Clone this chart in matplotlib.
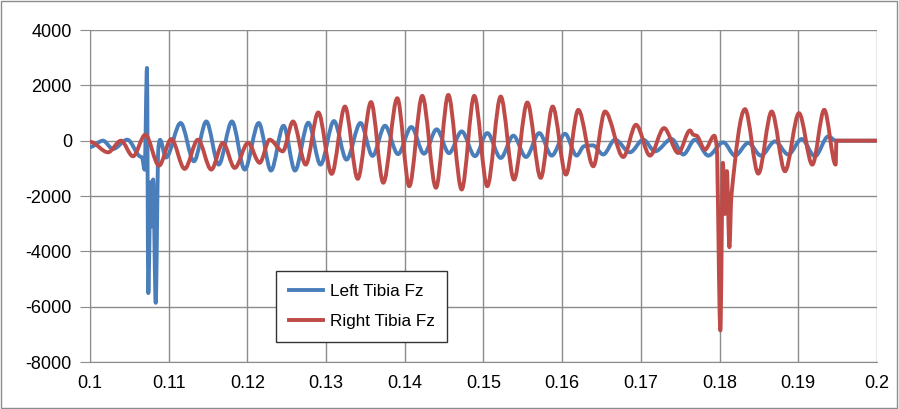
import matplotlib
matplotlib.use('Agg')
import matplotlib.pyplot as plt
from matplotlib.path import Path
from matplotlib.patches import PathPatch, Rectangle
from matplotlib.lines import Line2D

plt.rcParams['font.family'] = ['Liberation Sans', 'DejaVu Sans']
plt.rcParams['axes.unicode_minus'] = False

left_t = [0.1000, 0.10165, 0.10292, 0.10474, 0.10632, 0.10660, 0.10695, 0.10724,
          0.10741, 0.10770, 0.10785, 0.10803, 0.10835, 0.10868, 0.10890, 0.10965,
          0.11152, 0.11321, 0.11478, 0.11635, 0.11804, 0.11966, 0.12144, 0.12300,
          0.12459, 0.12605, 0.12774, 0.12929, 0.13100, 0.13259, 0.13437, 0.13590,
          0.13748, 0.13914, 0.14083, 0.14244, 0.14405, 0.14562, 0.14723, 0.14892,
          0.15048, 0.15219, 0.15379, 0.15540, 0.15709, 0.15867, 0.16036, 0.16184,
          0.16277, 0.16391, 0.16522, 0.16671, 0.16861, 0.17031, 0.17179, 0.17391,
          0.17539, 0.17687, 0.17856, 0.18047, 0.18196, 0.18365, 0.18526, 0.18704,
          0.18873, 0.19043, 0.19212, 0.19381, 0.19479, 0.2000]
left_fz = [-230, 0, -300, 36, -565, -600, -1050, 2630,
           -5510, -1500, -3100, -1400, -5860, -300, 30, -610,
           640, -745, 695, -865, 695, -1045, 640, -1080,
           540, -1080, 650, -865, 710, -685, 640, -550,
           540, -485, 495, -470, 410, -450, 335, -560,
           275, -625, 180, -590, 275, -540, 250, -540,
           -200, -170, -500, 36, -420, 36, -385, 60,
           -500, 36, -540, -60, -540, -80, -540, -25,
           -500, 60, -565, 155, 0, 0]

right_t = [0.1000, 0.10229, 0.10394, 0.10546, 0.10703, 0.10877, 0.11033, 0.11203,
           0.11372, 0.11541, 0.11690, 0.11839, 0.12008, 0.12156, 0.12283, 0.12449,
           0.12580, 0.12741, 0.12901, 0.13071, 0.13240, 0.13402, 0.13571, 0.13727,
           0.13905, 0.14057, 0.14222, 0.14396, 0.14553, 0.14723, 0.14883, 0.15048,
           0.15219, 0.15388, 0.15557, 0.15727, 0.15879, 0.16048, 0.16205, 0.16395,
           0.16544, 0.16776, 0.16938, 0.17116, 0.17294, 0.17475, 0.17624, 0.17666,
           0.17709, 0.17814, 0.17933, 0.17963, 0.18010, 0.18042, 0.18067, 0.18093,
           0.18125, 0.18150, 0.18323, 0.18492, 0.18662, 0.18831, 0.19009, 0.19178,
           0.19330, 0.19475, 0.19485, 0.2000]
right_fz = [-40, -420, 0, -565, 215, -900, 60, -1020,
            36, -1045, -80, -985, -80, -800, 36, -385,
            695, -865, 1020, -1200, 1235, -1380, 1395, -1520,
            1535, -1645, 1620, -1700, 1655, -1765, 1620, -1645,
            1595, -1405, 1380, -1345, 1235, -1225, 1115, -925,
            1055, -590, 575, -540, 455, -445, 370, 215,
            180, -325, 180, -200, -6860, -800, -2650, -1100,
            -3850, -2000, 1140, -1190, 1055, -1105, 995, -865,
            1115, -865, 0, 0]

SERIES = [(left_t, left_fz, '#4A7EBB', 'Left Tibia Fz'),
          (right_t, right_fz, '#BE4B48', 'Right Tibia Fz')]
GRID = '#8c8c8c'


def smooth(xs, ys):
    """Excel-style smoothed line: cubic segments, flat tangent at extremes."""
    n = len(xs)
    m = [0.0] * n
    for i in range(1, n - 1):
        a = (ys[i] - ys[i - 1]) / (xs[i] - xs[i - 1])
        b = (ys[i + 1] - ys[i]) / (xs[i + 1] - xs[i])
        if a * b > 0:
            m[i] = 2 * a * b / (a + b)
    verts, codes = [(xs[0], ys[0])], [Path.MOVETO]
    for i in range(n - 1):
        d = (xs[i + 1] - xs[i]) / 3
        verts += [(xs[i] + d, ys[i] + m[i] * d),
                  (xs[i + 1] - d, ys[i + 1] - m[i + 1] * d),
                  (xs[i + 1], ys[i + 1])]
        codes += [Path.CURVE4] * 3
    return Path(verts, codes)


fig = plt.figure(figsize=(8.99, 4.09), dpi=100)
fig.patches.append(Rectangle((0.001, 0.002), 0.997, 0.995, transform=fig.transFigure,
                             fill=False, edgecolor='#8c8c8c', lw=1))
ax = fig.add_axes([0.1001, 0.1149, 0.8754, 0.8117])

for xs, ys, col, name in SERIES:
    ax.add_patch(PathPatch(smooth(xs, ys), fill=False, edgecolor=col, lw=2.8,
                           capstyle='round', joinstyle='round', zorder=3))

ax.set_xlim(0.1, 0.2)
ax.set_ylim(-8000, 4000)
ax.set_xticks([0.1 + i * 0.01 for i in range(11)])
ax.set_xticklabels(['0.1', '0.11', '0.12', '0.13', '0.14', '0.15', '0.16',
                    '0.17', '0.18', '0.19', '0.2'])
ax.set_yticks(range(-8000, 4001, 2000))
ax.grid(True, color=GRID, lw=1)
ax.set_axisbelow(True)
for s in ('top', 'right'):
    ax.spines[s].set_visible(False)
for s in ('left', 'bottom'):
    ax.spines[s].set_color(GRID)
ax.tick_params(axis='y', length=7, color=GRID, labelsize=13, pad=6)
ax.tick_params(axis='x', length=0, labelsize=13, pad=9)

handles = [Line2D([], [], color=c, lw=2.8) for _, _, c, _ in SERIES]
leg = ax.legend(handles, [n for *_, n in SERIES], loc='lower left',
                bbox_to_anchor=(0.236, 0.06), borderaxespad=0, fontsize=12.3,
                fancybox=False, framealpha=1, edgecolor='#333333',
                handlelength=2.0, labelspacing=0.9, borderpad=0.75,
                handletextpad=0.4)
leg.get_frame().set_linewidth(1)

fig.savefig('out.png', dpi=100)
